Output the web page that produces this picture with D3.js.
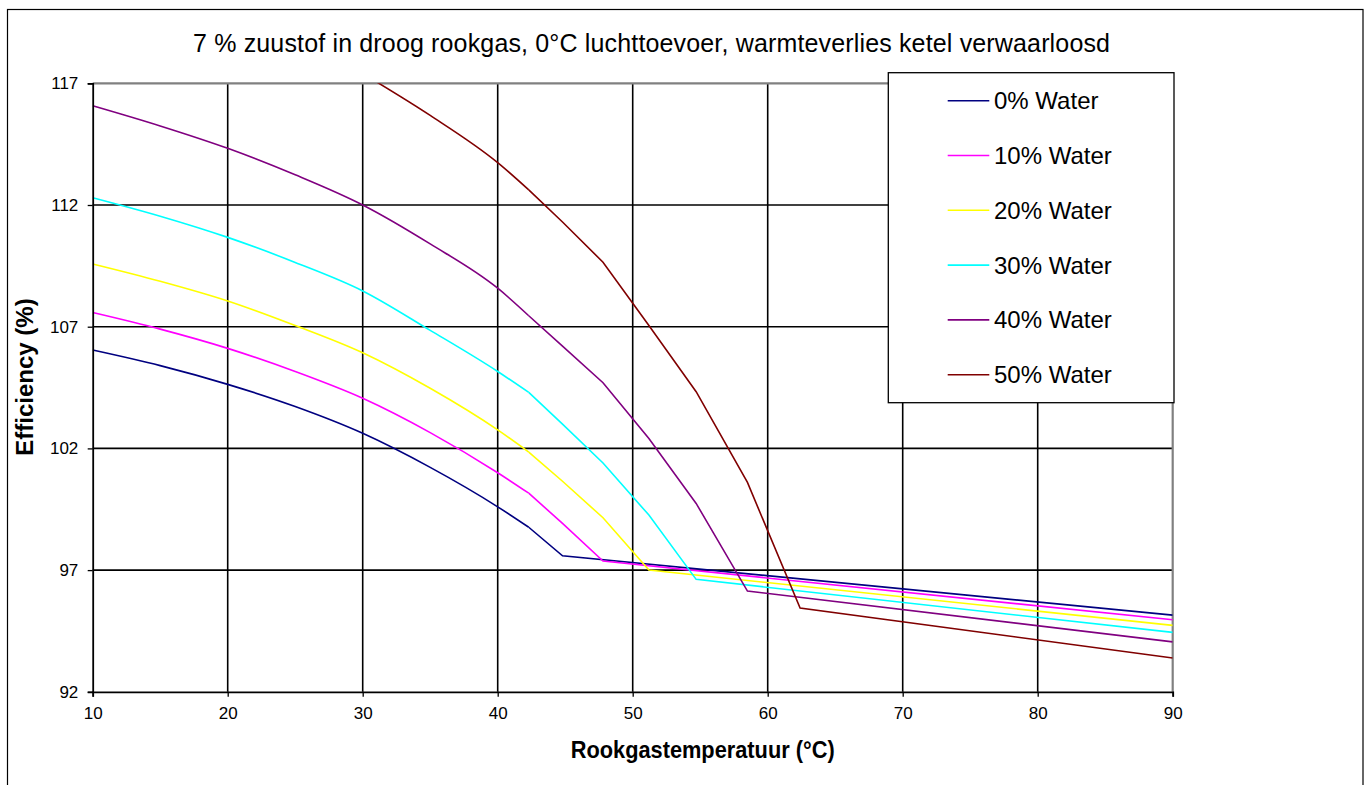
<!DOCTYPE html>
<html>
<head>
<meta charset="utf-8">
<script src="https://cdn.jsdelivr.net/npm/d3@7"></script>
<style>
  html, body { margin: 0; padding: 0; background: #ffffff; }
  svg { display: block; }
  text { font-family: "Liberation Sans", Arial, sans-serif; fill: #000; }
</style>
</head>
<body>
<svg id="chart" width="1368" height="785"></svg>
<script>
// ---- Data ----
const titleText = "7 % zuustof in droog rookgas, 0°C luchttoevoer, warmteverlies ketel verwaarloosd";
const xAxisTitle = "Rookgastemperatuur (°C)";
const yAxisTitle = "Efficiency (%)";

const xTicks = [10, 20, 30, 40, 50, 60, 70, 80, 90];
const yTicks = [92, 97, 102, 107, 112, 117];

const seriesNames = ["0% Water", "10% Water", "20% Water", "30% Water", "40% Water", "50% Water"];
const seriesColors = ["#000080", "#FF00FF", "#FFFF00", "#00FFFF", "#800080", "#800000"];

const temp0 = [10, 15, 20, 25, 30, 35, 40, 42.3, 44.8, 90];
const eff0  = [106.04, 105.40, 104.63, 103.72, 102.62, 101.22, 99.60, 98.76, 97.59, 95.15];

const temp10 = [10, 15, 20, 25, 30, 35, 40, 42.3, 44.8, 47.8, 90];
const eff10  = [107.58, 106.90, 106.11, 105.16, 104.06, 102.65, 101.00, 100.16, 98.92, 97.37, 94.96];

const temp20 = [10, 15, 20, 25, 30, 35, 40, 42.3, 44.8, 47.8, 51.2, 90];
const eff20  = [109.58, 108.87, 108.06, 107.05, 105.93, 104.47, 102.76, 101.85, 100.65, 99.15, 97.00, 94.73];

const temp30 = [10, 15, 20, 25, 30, 35, 40, 42.3, 44.8, 47.8, 51.2, 54.7, 90];
const eff30  = [112.30, 111.54, 110.67, 109.64, 108.47, 106.85, 105.16, 104.30, 103.00, 101.40, 99.26, 96.62, 94.44];

const temp40 = [10, 15, 20, 25, 30, 35, 40, 42.3, 44.8, 47.8, 51.2, 54.7, 58.5, 90];
const eff40  = [116.08, 115.25, 114.33, 113.24, 112.00, 110.40, 108.58, 107.45, 106.20, 104.70, 102.41, 99.74, 96.14, 94.05];

const temp50 = [30, 35, 40, 42.3, 44.8, 47.8, 51.2, 54.7, 58.5, 62.4, 90];
const eff50  = [117.40, 115.68, 113.74, 112.62, 111.30, 109.65, 107.05, 104.33, 100.60, 95.44, 93.39];

const seriesTemps = [temp0, temp10, temp20, temp30, temp40, temp50];
const seriesEffs  = [eff0, eff10, eff20, eff30, eff40, eff50];

// ---- Layout ----
const svg = d3.select("#chart");
const plot = { left: 92.7, right: 1172.7, top: 83.3, bottom: 691.8 };
const smoothUntil = 42.3; // below this temperature the curves are drawn smooth

const x = d3.scaleLinear().domain([10, 90]).range([plot.left, plot.right]);
const y = d3.scaleLinear().domain([92, 117]).range([plot.bottom, plot.top]);

// outer chart border
svg.append("rect")
  .attr("x", 7.5).attr("y", 9.5)
  .attr("width", 1355.5).attr("height", 800)
  .attr("fill", "#fff").attr("stroke", "#000").attr("stroke-width", 1.2);

// title
svg.append("text")
  .attr("x", 193).attr("y", 52)
  .attr("font-size", 25)
  .attr("textLength", 917).attr("lengthAdjust", "spacing")
  .text(titleText);

// gridlines
const grid = svg.append("g");
grid.selectAll("line.v").data(xTicks.slice(1, -1)).join("line")
  .attr("x1", d => x(d)).attr("x2", d => x(d))
  .attr("y1", plot.top).attr("y2", plot.bottom)
  .attr("stroke", "#000").attr("stroke-width", 1.6);
grid.selectAll("line.h").data(yTicks.slice(1, -1)).join("line")
  .attr("x1", plot.left).attr("x2", plot.right)
  .attr("y1", d => y(d)).attr("y2", d => y(d))
  .attr("stroke", "#000").attr("stroke-width", 1.6);

// plot border top / right (gray)
svg.append("line")
  .attr("x1", plot.left).attr("x2", plot.right)
  .attr("y1", plot.top).attr("y2", plot.top)
  .attr("stroke", "#808080").attr("stroke-width", 2.2);
svg.append("line")
  .attr("x1", plot.right).attr("x2", plot.right)
  .attr("y1", plot.top).attr("y2", plot.bottom)
  .attr("stroke", "#808080").attr("stroke-width", 2.2);

// clip
svg.append("clipPath").attr("id", "clip")
  .append("rect")
  .attr("x", plot.left).attr("y", plot.top)
  .attr("width", plot.right - plot.left).attr("height", plot.bottom - plot.top);

// series
const smoothLine = d3.line().x(d => x(d[0])).y(d => y(d[1])).curve(d3.curveMonotoneX);
const straightLine = d3.line().x(d => x(d[0])).y(d => y(d[1]));
const lines = svg.append("g").attr("clip-path", "url(#clip)");
seriesEffs.forEach((effs, i) => {
  const pts = seriesTemps[i].map((t, j) => [t, effs[j]]);
  const partA = pts.filter(p => p[0] <= smoothUntil);
  const partB = pts.filter(p => p[0] >= smoothUntil);
  [[partA, smoothLine], [partB, straightLine]].forEach(([part, gen]) => {
    if (part.length < 2) return;
    lines.append("path")
      .datum(part)
      .attr("d", gen)
      .attr("fill", "none")
      .attr("stroke", seriesColors[i])
      .attr("stroke-width", 1.6)
      .attr("stroke-linejoin", "miter");
  });
});

// axes
const xAxis = d3.axisBottom(x).tickValues(xTicks).tickSize(5).tickPadding(10.5).tickFormat(d3.format("d"));
const yAxis = d3.axisLeft(y).tickValues(yTicks).tickSize(5).tickPadding(9.4).tickFormat(d3.format("d"));

const gx = svg.append("g").attr("transform", `translate(0,${plot.bottom})`).call(xAxis);
gx.select(".domain").attr("stroke", "#000").attr("stroke-width", 1.8);
gx.selectAll(".tick line").attr("stroke", "#000").attr("stroke-width", 1.3);
gx.selectAll(".tick text").attr("font-size", 17).attr("font-family", "'Liberation Sans', Arial, sans-serif").attr("fill", "#000");

const gy = svg.append("g").attr("transform", `translate(${plot.left},0)`).call(yAxis);
gy.select(".domain").attr("stroke", "#000").attr("stroke-width", 1.8);
gy.selectAll(".tick line").attr("stroke", "#000").attr("stroke-width", 1.3);
gy.selectAll(".tick text").attr("font-size", 17).attr("font-family", "'Liberation Sans', Arial, sans-serif").attr("fill", "#000");

// axis titles
svg.append("text")
  .attr("x", 570.7).attr("y", 758.3)
  .attr("font-size", 24).attr("font-weight", "bold")
  .attr("textLength", 264).attr("lengthAdjust", "spacingAndGlyphs")
  .text(xAxisTitle);

svg.append("text")
  .attr("transform", "translate(33.3,377) rotate(-90)")
  .attr("text-anchor", "middle")
  .attr("font-size", 24).attr("font-weight", "bold")
  .text(yAxisTitle);

// legend
const legend = svg.append("g");
legend.append("rect")
  .attr("x", 888.3).attr("y", 72.7)
  .attr("width", 1174 - 888.3).attr("height", 402.7 - 72.7)
  .attr("fill", "#fff").attr("stroke", "#000").attr("stroke-width", 1.3);

const legY = d3.scalePoint().domain(seriesNames).range([100.7, 374.7]);
const items = legend.selectAll("g.item").data(seriesNames).join("g")
  .attr("transform", d => `translate(0,${legY(d)})`);
items.append("line")
  .attr("x1", 947.7).attr("x2", 989.3)
  .attr("y1", 0).attr("y2", 0)
  .attr("stroke", (d, i) => seriesColors[i]).attr("stroke-width", 1.6);
items.append("text")
  .attr("x", 994).attr("y", 0).attr("dy", "0.35em")
  .attr("font-size", 24)
  .text(d => d);
</script>
</body>
</html>
